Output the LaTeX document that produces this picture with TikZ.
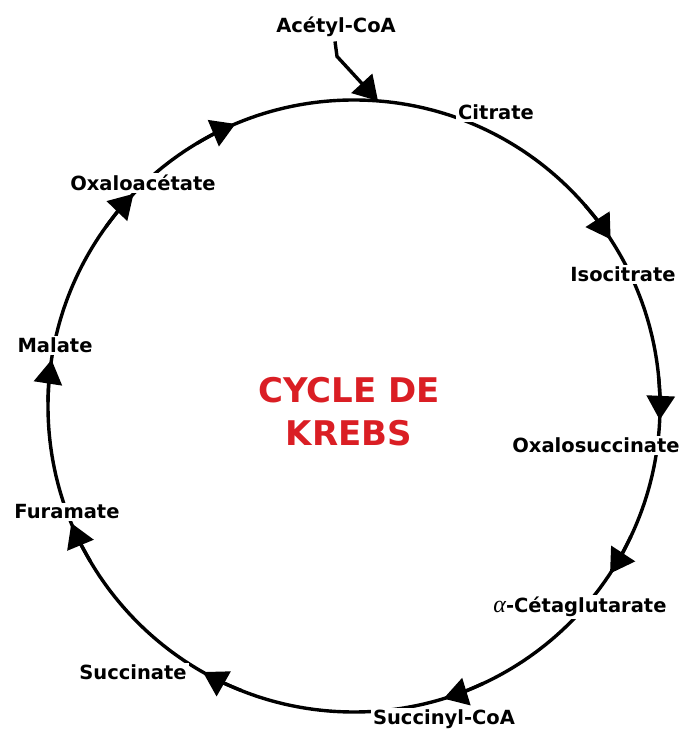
\documentclass[tikz,border=0pt]{standalone}
\usepackage{fontspec}
\setmainfont{DejaVu Sans}
\newfontfamily\greekfont{Liberation Serif}
\usetikzlibrary{arrows.meta,calc}
\definecolor{krebsred}{RGB}{218,30,36}
\begin{document}
\begin{tikzpicture}[x=1pt,y=1pt,
  cyc/.style={line width=3.4pt},
  lbl/.style={font=\fontsize{19.5}{22}\selectfont\bfseries, fill=white, inner sep=2pt, anchor=base},
  tipline/.style={line width=3.4pt, -{Triangle[length=24pt,width=28pt]}},
  ttl/.style={font=\fontsize{34}{40}\selectfont\bfseries, text=krebsred, anchor=base, inner sep=0pt}]
\useasboundingbox (0,0) rectangle (683,731);
\coordinate (C) at (354,325);
\draw[cyc] (C) circle[radius=306];
% arrow heads along the cycle
\foreach \a in {112.8, 33.0, -2.6, -33.2, -73.0, -119.6, -157.5, 171.3, 136.1} {
  \draw[tipline] ($(C)+(\a+8:306)$) arc[start angle=\a+8, end angle=\a, radius=306];
}
% labels
\node[lbl] (acetyl) at (336,698) {Acétyl-CoA};
\node[lbl] (citrate) at (496,611) {Citrate};
\node[lbl] (isocitrate) at (623,449) {Isocitrate};
\node[lbl] (oxalosucc) at (596,278) {Oxalosuccinate};
\node[lbl] (ceta) at (580,118) {{\greekfont\mdseries\itshape\fontsize{24}{24}\selectfont α}-Cétaglutarate};
\node[lbl] (succoa) at (444,6) {Succinyl-CoA};
\node[lbl] (succinate) at (133,51) {Succinate};
\node[lbl] (furamate) at (67,212) {Furamate};
\node[lbl] (malate) at (55,378) {Malate};
\node[lbl] (oxaloac) at (143,540) {Oxaloacétate};
% acetyl-CoA entry
\coordinate (acin) at ($(C)+(85.5:306)$);
\draw[tipline] ([xshift=-1pt,yshift=-2pt]acetyl.south) -- ++(2,-15) -- (acin);
% title
\node[ttl] (t1) at (349,328) {CYCLE DE};
\node[ttl] (t2) at (349,285) {KREBS};
\end{tikzpicture}
\end{document}
